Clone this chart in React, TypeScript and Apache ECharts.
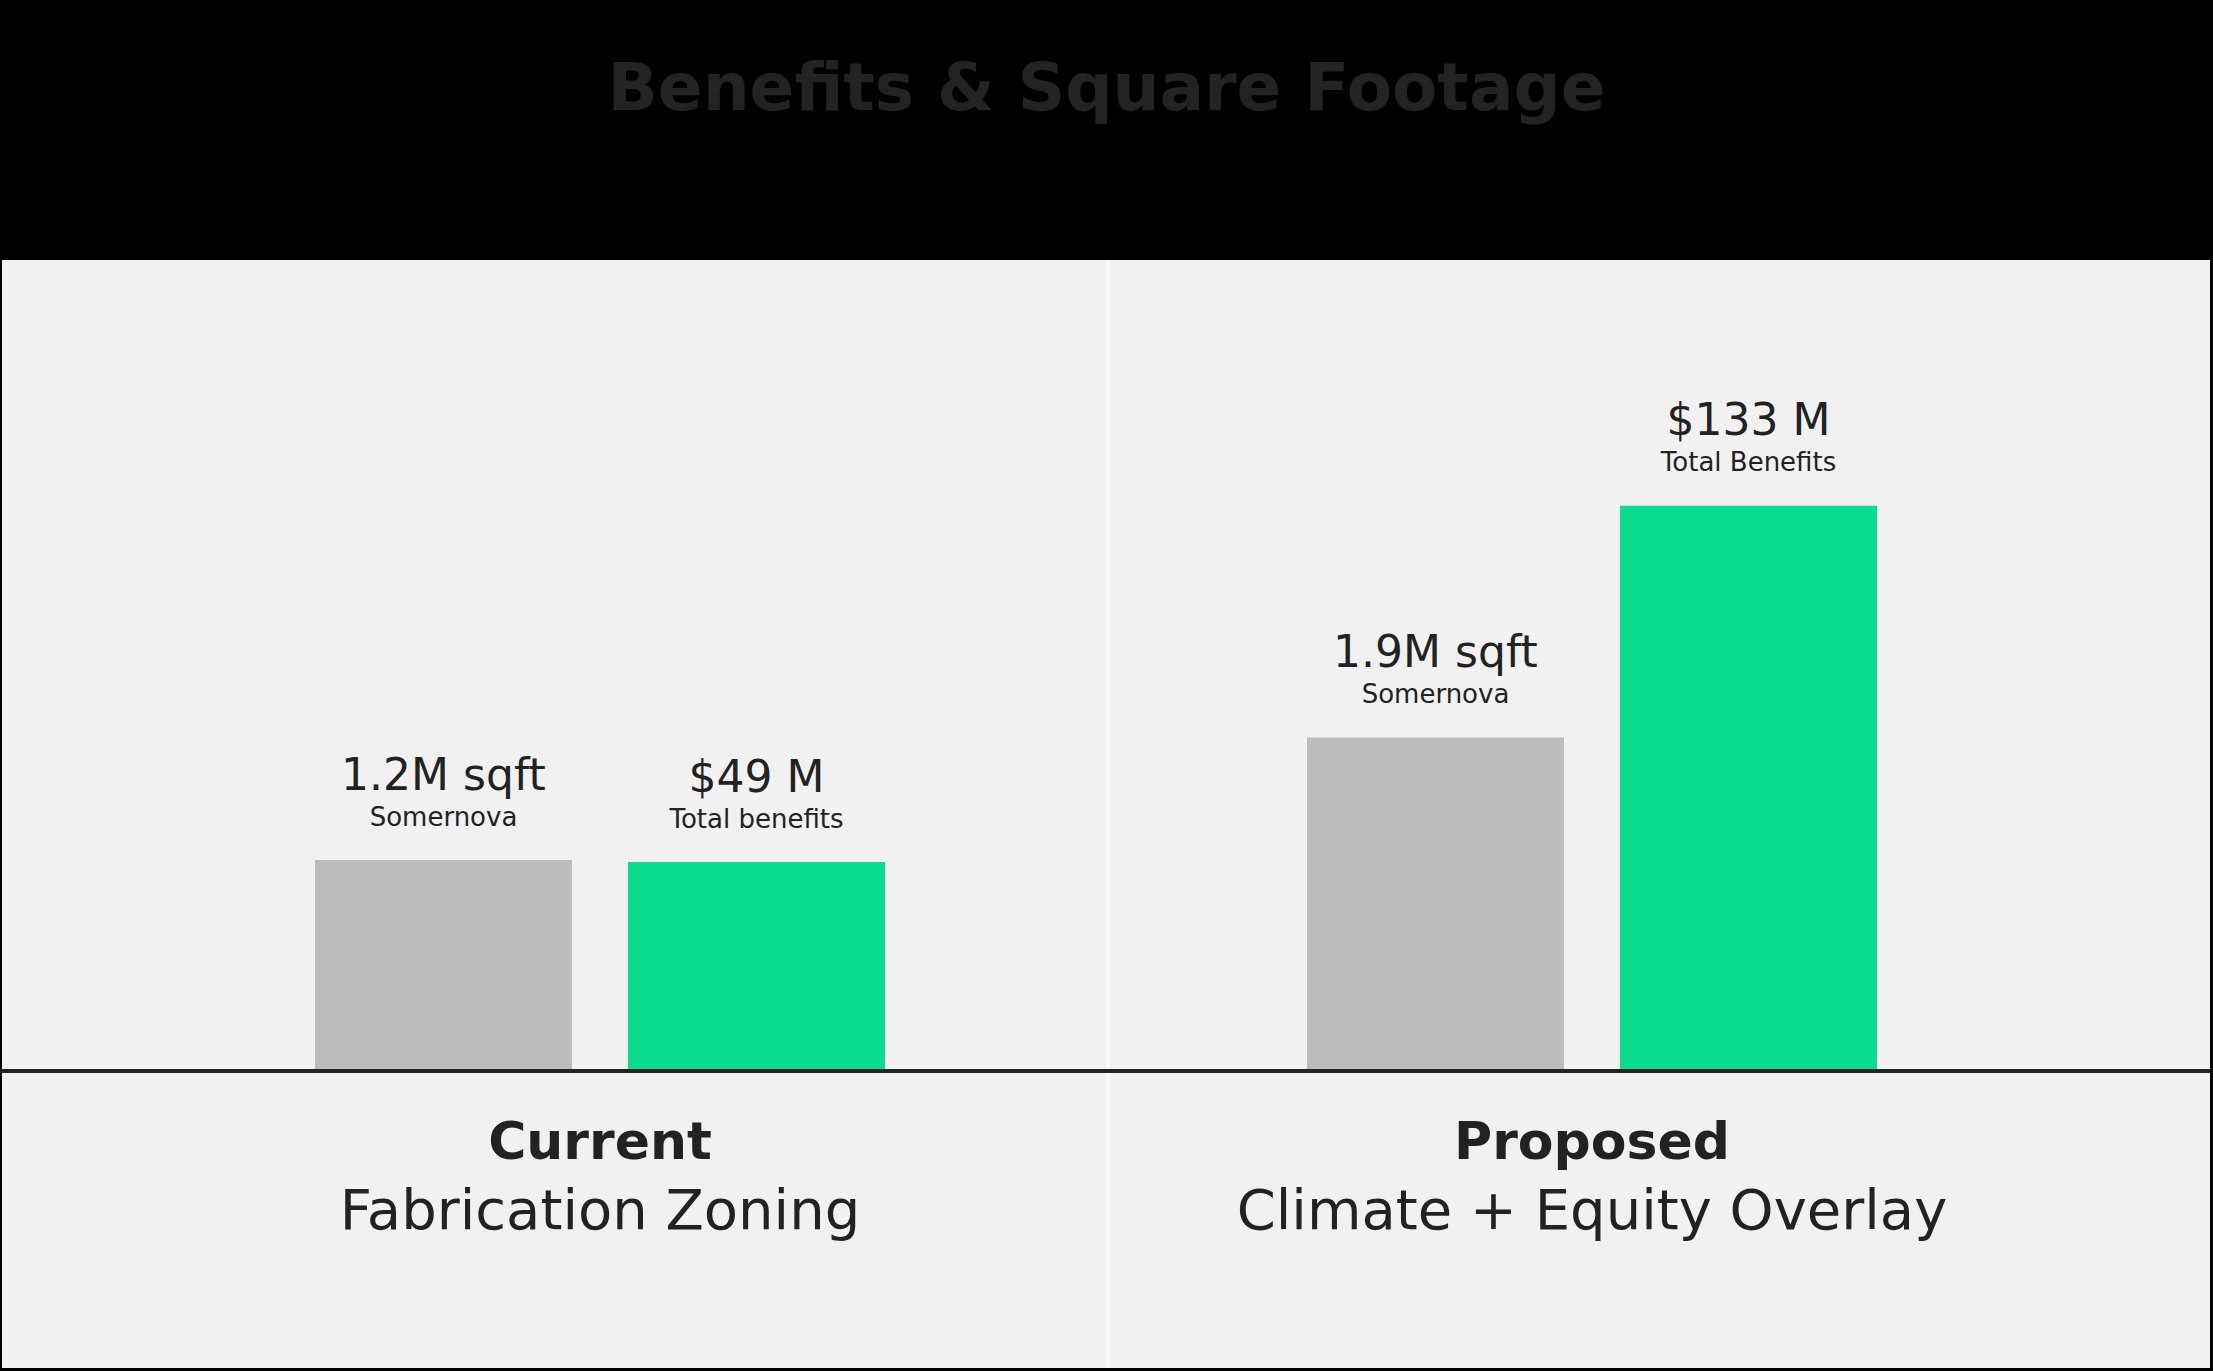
import React, { useEffect, useRef } from "react";
import * as echarts from "echarts";

const categories = ["Current", "Proposed"];
const categorySubtitles = ["Fabrication Zoning", "Climate + Equity Overlay"];
const sqftValues = [1.2, 1.9];
const sqftLabels = ["1.2M sqft", "1.9M sqft"];
const sqftCaptions = ["Somernova", "Somernova"];
const benefitValues = [49, 133];
const benefitLabels = ["$49 M", "$133 M"];
const benefitCaptions = ["Total benefits", "Total Benefits"];
const chartTitle = "Benefits & Square Footage";

const W = 2213;
const H = 1371;
const FONT = "'DejaVu Sans', Inter, sans-serif";
const TEXT = "#222222";

export default function App() {
  const ref = useRef<HTMLDivElement>(null);
  useEffect(() => {
    if (!ref.current) return;
    const chart = echarts.init(ref.current, null, { renderer: "svg", width: W, height: H });
    const valueLabel = (labels: string[], captions: string[]) => ({
      show: true,
      position: "top",
      distance: 27,
      formatter: (p: any) => `{a|${labels[p.dataIndex]}}\n{b|${captions[p.dataIndex]}}`,
      rich: {
        a: { fontFamily: FONT, fontSize: 44, fontWeight: "normal", color: TEXT, lineHeight: 52, align: "center" },
        b: { fontFamily: FONT, fontSize: 26, fontWeight: "normal", color: TEXT, lineHeight: 33, align: "center" },
      },
    });
    chart.setOption({
      animation: false,
      backgroundColor: "#000000",
      title: {
        text: chartTitle,
        left: "center",
        top: 42,
        textStyle: { fontFamily: FONT, fontSize: 66, fontWeight: "bold", color: "#232323", lineHeight: 80 },
      },
      graphic: [
        { type: "rect", z: -1, shape: { x: 2, y: 260, width: 2208, height: 1108 }, style: { fill: "#f1f1f1" }, silent: true },
        { type: "line", z: -1, shape: { x1: 1108, y1: 260, x2: 1108, y2: 1368 }, style: { stroke: "#fafafa", lineWidth: 4 }, silent: true },
        { type: "line", z: 10, shape: { x1: 0, y1: 1071, x2: 2210, y2: 1071 }, style: { stroke: "#222222", lineWidth: 4 }, silent: true },
      ],
      grid: { left: 104, right: 125, top: 370, bottom: 301, containLabel: false },
      xAxis: {
        type: "category",
        data: categories,
        axisLine: { show: false },
        axisTick: { show: false },
        splitLine: { show: false },
        axisLabel: {
          margin: 36,
          interval: 0,
          formatter: (v: string, i: number) => `{t|${v}}\n{s|${categorySubtitles[i]}}`,
          rich: {
            t: { fontFamily: FONT, fontSize: 52, fontWeight: "bold", color: TEXT, lineHeight: 69, align: "center" },
            s: { fontFamily: FONT, fontSize: 56, fontWeight: "normal", color: TEXT, lineHeight: 69, align: "center" },
          },
        },
      },
      yAxis: [
        { type: "value", min: 0, max: 4, show: false, splitLine: { show: false } },
        { type: "value", min: 0, max: 165, show: false, splitLine: { show: false } },
      ],
      series: [
        {
          name: "Square footage",
          type: "bar",
          yAxisIndex: 0,
          data: sqftValues,
          barWidth: 257,
          barGap: "21.8%",
          itemStyle: { color: "#bcbcbc" },
          label: valueLabel(sqftLabels, sqftCaptions),
        },
        {
          name: "Total benefits",
          type: "bar",
          yAxisIndex: 1,
          data: benefitValues,
          barWidth: 257,
          barGap: "21.8%",
          itemStyle: { color: "#0cdc8f" },
          label: valueLabel(benefitLabels, benefitCaptions),
        },
      ],
    });
    return () => chart.dispose();
  }, []);
  return (
    <div
      ref={ref}
      style={{ position: "absolute", left: 0, top: 0, width: W, height: H, background: "#000" }}
    />
  );
}
